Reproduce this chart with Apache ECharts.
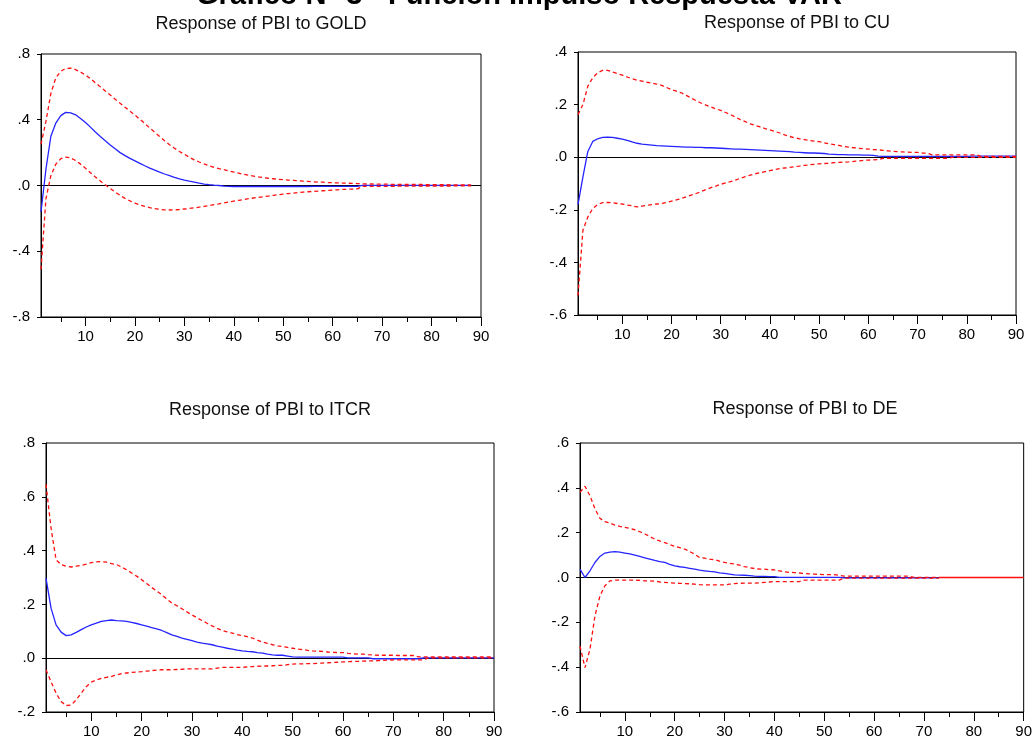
<!DOCTYPE html>
<html>
<head>
<meta charset="utf-8">
<script src="https://cdn.jsdelivr.net/npm/echarts@6/dist/echarts.min.js"></script>
<style>html,body{margin:0;padding:0;background:#fff}#c{width:1035px;height:740px}</style>
</head>
<body>
<div id="c"></div>
<script>
// ---------- data ----------
const mainTitle = 'Gráfico N° 3 - Función Impulso Respuesta VAR';
const panelTitles = ['Response of PBI to GOLD', 'Response of PBI to CU', 'Response of PBI to ITCR', 'Response of PBI to DE'];
const periods = Array.from({length: 90}, (_, i) => String(i + 1));

const goldIrf = [-0.16, 0.10, 0.30, 0.38, 0.425, 0.445, 0.442, 0.43, 0.408, 0.383,
 0.355, 0.325, 0.298, 0.272, 0.247, 0.223, 0.2, 0.182, 0.165, 0.15,
 0.135, 0.12, 0.106, 0.093, 0.081, 0.07, 0.06, 0.05, 0.041, 0.033,
 0.026, 0.02, 0.014, 0.009, 0.005, 0.002, 0, -0.004, -0.005, -0.006,
 -0.006, -0.006, -0.006, -0.006, -0.006, -0.006, -0.006, -0.006, -0.006, -0.006,
 -0.006, -0.006, -0.006, -0.006, -0.006, -0.005, -0.005, -0.005, -0.005, -0.005,
 -0.005, -0.005, -0.005, -0.005, -0.005, 0.001, 0.001, 0.001, 0.001, 0.001,
 0.001, 0.001, 0.001, 0.001, 0.001, 0.001, 0.001, 0.001, 0.001, 0.001,
 0.001, 0.001, 0.001, 0.001, 0.001, 0.001, 0.001, 0.001];
const goldUp = [0.25, 0.39, 0.56, 0.655, 0.695, 0.712, 0.714, 0.705, 0.69, 0.672,
 0.65, 0.625, 0.6, 0.575, 0.55, 0.525, 0.5, 0.476, 0.452, 0.428,
 0.403, 0.377, 0.35, 0.324, 0.298, 0.272, 0.248, 0.227, 0.207, 0.19,
 0.172, 0.156, 0.143, 0.131, 0.12, 0.111, 0.103, 0.096, 0.089, 0.082,
 0.075, 0.068, 0.062, 0.057, 0.052, 0.048, 0.044, 0.041, 0.038, 0.035,
 0.033, 0.031, 0.029, 0.027, 0.025, 0.023, 0.021, 0.02, 0.018, 0.017,
 0.016, 0.015, 0.014, 0.013, 0.012, 0.01, 0.009, 0.009, 0.008, 0.008,
 0.008, 0.007, 0.007, 0.007, 0.006, 0.006, 0.006, 0.006, 0.005, 0.005,
 0.005, 0.005, 0.005, 0.004, 0.004, 0.004, 0.004, 0.004];
const goldLo = [-0.51, -0.08, 0.06, 0.13, 0.163, 0.173, 0.168, 0.152, 0.13, 0.105,
 0.078, 0.052, 0.027, 0.004, -0.018, -0.04, -0.06, -0.078, -0.094, -0.107,
 -0.118, -0.127, -0.135, -0.141, -0.145, -0.148, -0.149, -0.148, -0.146, -0.143,
 -0.14, -0.136, -0.132, -0.127, -0.122, -0.117, -0.112, -0.106, -0.1, -0.095,
 -0.09, -0.085, -0.08, -0.076, -0.072, -0.068, -0.064, -0.06, -0.056, -0.052,
 -0.049, -0.046, -0.043, -0.04, -0.038, -0.036, -0.034, -0.032, -0.03, -0.028,
 -0.026, -0.024, -0.023, -0.022, -0.021, -0.006, -0.005, -0.005, -0.005, -0.005,
 -0.005, -0.005, -0.004, -0.004, -0.004, -0.004, -0.004, -0.004, -0.003, -0.003,
 -0.003, -0.003, -0.003, -0.003, -0.002, -0.002, -0.002, -0.002];

const cuIrf = [-0.18, -0.075, 0.022, 0.06, 0.07, 0.075, 0.076, 0.075, 0.072, 0.069,
 0.064, 0.058, 0.053, 0.05, 0.048, 0.046, 0.044, 0.043, 0.042, 0.041,
 0.04, 0.039, 0.038, 0.038, 0.037, 0.037, 0.036, 0.036, 0.035, 0.034,
 0.033, 0.032, 0.031, 0.031, 0.03, 0.029, 0.028, 0.027, 0.026, 0.025,
 0.024, 0.023, 0.022, 0.021, 0.019, 0.018, 0.017, 0.016, 0.016, 0.015,
 0.014, 0.012, 0.011, 0.01, 0.01, 0.009, 0.009, 0.009, 0.008, 0.008,
 0.007, 0.004, 0.003, 0.003, 0.003, 0.003, 0.003, 0.003, 0.003, 0.003,
 0.003, 0.003, 0.003, 0.003, 0.003, 0.003, 0.003, 0.003, 0.003, 0.003,
 0.004, 0.004, 0.004, 0.004, 0.004, 0.004, 0.004, 0.004, 0.004, 0.004];
const cuUp = [0.162, 0.2, 0.27, 0.302, 0.321, 0.33, 0.33, 0.324, 0.318, 0.312,
 0.305, 0.298, 0.293, 0.289, 0.285, 0.282, 0.278, 0.273, 0.265, 0.257,
 0.251, 0.245, 0.235, 0.225, 0.215, 0.206, 0.198, 0.191, 0.184, 0.178,
 0.17, 0.162, 0.152, 0.143, 0.135, 0.127, 0.121, 0.115, 0.109, 0.104,
 0.098, 0.092, 0.085, 0.079, 0.074, 0.07, 0.067, 0.064, 0.061, 0.059,
 0.055, 0.051, 0.048, 0.045, 0.041, 0.038, 0.036, 0.034, 0.032, 0.031,
 0.029, 0.028, 0.026, 0.024, 0.022, 0.021, 0.02, 0.019, 0.018, 0.018,
 0.016, 0.015, 0.009, 0.009, 0.009, 0.009, 0.009, 0.009, 0.009, 0.009,
 0.009, 0.009, 0.003, 0.003, 0.003, 0.003, 0.003, 0.003, 0.003, 0.003];
const cuLo = [-0.526, -0.278, -0.227, -0.195, -0.18, -0.173, -0.172, -0.173, -0.176, -0.178,
 -0.182, -0.185, -0.189, -0.186, -0.183, -0.18, -0.178, -0.176, -0.172, -0.167,
 -0.162, -0.157, -0.151, -0.144, -0.138, -0.131, -0.123, -0.116, -0.11, -0.103,
 -0.098, -0.093, -0.087, -0.08, -0.074, -0.068, -0.063, -0.059, -0.055, -0.051,
 -0.047, -0.043, -0.041, -0.039, -0.036, -0.034, -0.031, -0.029, -0.027, -0.025,
 -0.024, -0.023, -0.021, -0.02, -0.019, -0.018, -0.016, -0.014, -0.012, -0.011,
 -0.01, -0.009, -0.004, -0.004, -0.004, -0.004, -0.004, -0.004, -0.004, -0.004,
 -0.004, -0.004, -0.004, -0.004, -0.004, -0.004, -0.001, -0.001, -0.001, -0.001,
 -0.001, -0.001, -0.001, -0.001, -0.001, -0.001, -0.001, -0.001, -0.001, -0.001];

const itcrIrf = [0.298, 0.186, 0.124, 0.097, 0.084, 0.087, 0.096, 0.106, 0.116, 0.124,
 0.13, 0.137, 0.14, 0.142, 0.14, 0.139, 0.137, 0.133, 0.129, 0.124,
 0.119, 0.114, 0.109, 0.103, 0.095, 0.087, 0.081, 0.075, 0.07, 0.065,
 0.06, 0.056, 0.053, 0.05, 0.045, 0.041, 0.037, 0.034, 0.03, 0.027,
 0.025, 0.024, 0.021, 0.019, 0.015, 0.012, 0.011, 0.011, 0.008, 0.005,
 0.004, 0.004, 0.004, 0.004, 0.004, 0.004, 0.004, 0.004, 0.004, 0.004,
 0.001, 0.001, 0.001, 0.001, 0.001, -0.002, -0.002, -0.002, -0.002, -0.002,
 -0.002, -0.002, -0.002, -0.002, -0.002, 0.001, 0.001, 0.001, 0.001, 0.001,
 0.001, 0.001, 0.001, 0.001, 0.001, 0.001, 0.001, 0.001, 0.001, 0.001];
const itcrUp = [0.646, 0.484, 0.366, 0.348, 0.342, 0.339, 0.342, 0.345, 0.35, 0.355,
 0.358, 0.359, 0.357, 0.352, 0.348, 0.339, 0.329, 0.317, 0.305, 0.292,
 0.278, 0.263, 0.25, 0.236, 0.22, 0.205, 0.195, 0.184, 0.172, 0.161,
 0.15, 0.14, 0.13, 0.12, 0.111, 0.103, 0.098, 0.093, 0.088, 0.084,
 0.08, 0.075, 0.067, 0.06, 0.055, 0.05, 0.046, 0.043, 0.04, 0.037,
 0.034, 0.032, 0.029, 0.027, 0.026, 0.025, 0.023, 0.022, 0.021, 0.021,
 0.018, 0.016, 0.015, 0.015, 0.013, 0.012, 0.011, 0.011, 0.011, 0.011,
 0.01, 0.01, 0.01, 0.01, 0.005, 0.005, 0.005, 0.005, 0.005, 0.005,
 0.005, 0.005, 0.005, 0.005, 0.005, 0.005, 0.005, 0.005, 0.005, 0.005];
const itcrLo = [-0.043, -0.087, -0.13, -0.161, -0.176, -0.174, -0.155, -0.13, -0.106, -0.089,
 -0.081, -0.075, -0.071, -0.068, -0.062, -0.057, -0.055, -0.053, -0.051, -0.05,
 -0.048, -0.046, -0.044, -0.043, -0.043, -0.043, -0.042, -0.041, -0.04, -0.04,
 -0.04, -0.04, -0.04, -0.04, -0.037, -0.034, -0.034, -0.034, -0.034, -0.034,
 -0.032, -0.031, -0.03, -0.029, -0.029, -0.028, -0.027, -0.027, -0.024, -0.022,
 -0.021, -0.021, -0.02, -0.02, -0.019, -0.018, -0.017, -0.016, -0.015, -0.014,
 -0.013, -0.012, -0.012, -0.011, -0.01, -0.01, -0.009, -0.008, -0.007, -0.006,
 -0.006, -0.006, -0.006, -0.006, -0.006, -0.006, 0.001, 0.001, 0.001, 0.001,
 0.001, 0.001, 0.001, 0.001, 0.001, 0.001, 0.001, 0.001, 0.001, 0.001];

const deIrf = [0.037, 0.0, 0.03, 0.067, 0.094, 0.109, 0.113, 0.115, 0.113, 0.109,
 0.105, 0.1, 0.094, 0.088, 0.082, 0.076, 0.071, 0.067, 0.059, 0.052,
 0.048, 0.045, 0.041, 0.037, 0.033, 0.03, 0.027, 0.025, 0.021, 0.018,
 0.015, 0.012, 0.011, 0.01, 0.008, 0.006, 0.005, 0.005, 0.004, 0.004,
 0.001, 0.001, 0.001, 0.001, 0.001, 0.001, 0.001, 0.001, 0.001, 0.001,
 0.001, 0.001, 0.001, -0.002, -0.002, -0.002, -0.002, -0.002, -0.002, -0.002,
 -0.002, -0.002, -0.002, -0.002, -0.002, -0.002, -0.002, -0.002, -0.002, -0.002,
 -0.002, -0.002, -0.002];
const deUp = [0.38, 0.407, 0.365, 0.306, 0.264, 0.249, 0.243, 0.234, 0.228, 0.224,
 0.219, 0.213, 0.204, 0.194, 0.183, 0.171, 0.163, 0.156, 0.147, 0.139,
 0.133, 0.127, 0.116, 0.104, 0.089, 0.086, 0.082, 0.079, 0.073, 0.067,
 0.063, 0.06, 0.055, 0.049, 0.044, 0.04, 0.038, 0.037, 0.035, 0.034,
 0.03, 0.025, 0.023, 0.022, 0.02, 0.018, 0.016, 0.015, 0.014, 0.013,
 0.013, 0.013, 0.01, 0.006, 0.006, 0.006, 0.006, 0.006, 0.006, 0.006,
 0.006, 0.006, 0.006, 0.006, 0.006, 0.006, 0.006, 0.001, 0.001, 0.001,
 0.001, 0.001, 0.001];
const deLo = [-0.306, -0.402, -0.32, -0.171, -0.082, -0.037, -0.015, -0.012, -0.012, -0.012,
 -0.012, -0.012, -0.013, -0.015, -0.015, -0.016, -0.02, -0.022, -0.024, -0.025,
 -0.026, -0.027, -0.028, -0.03, -0.032, -0.033, -0.033, -0.033, -0.033, -0.033,
 -0.03, -0.027, -0.026, -0.025, -0.025, -0.025, -0.024, -0.022, -0.02, -0.018,
 -0.018, -0.018, -0.018, -0.018, -0.018, -0.012, -0.012, -0.012, -0.012, -0.012,
 -0.012, -0.012, -0.012, -0.003, -0.003, -0.003, -0.003, -0.003, -0.003, -0.003,
 -0.003, -0.003, -0.003, -0.003, -0.003, -0.003, -0.003, -0.003, -0.003, -0.003,
 -0.003, -0.003, -0.003];
// bands collapsed onto zero, periods 73..90 (drawn solid red in the reference)
const deBandTailStart = 73;
const deBandTail = [0, 0, 0, 0, 0, 0, 0, 0, 0, 0, 0, 0, 0, 0, 0, 0, 0, 0];

const yRanges = [[-0.8, 0.8, 0.4], [-0.6, 0.4, 0.2], [-0.2, 0.8, 0.2], [-0.6, 0.6, 0.2]];

// ---------- layout / styles ----------
const FONT = '"Liberation Sans", Arial, sans-serif';
const boxes = [[41, 54, 440, 263], [578, 52, 438, 263], [46, 443, 448, 269], [580, 443, 449, 269]];
const titlePos = [[261, 24], [797, 23], [270, 410], [805, 409]];
const BLUE = '#2424ff', RED = '#ff1010';

const panels = [
  {irf: goldIrf, up: goldUp, lo: goldLo},
  {irf: cuIrf, up: cuUp, lo: cuLo},
  {irf: itcrIrf, up: itcrUp, lo: itcrLo},
  {irf: deIrf, up: deUp, lo: deLo}
];

const fmtY = v => {
  const s = (Math.round(v * 10) / 10).toFixed(1);
  return s.replace(/^(-?)0\./, '$1.');
};

const grid = [], xAxis = [], yAxis = [], series = [];
const graphic = [{
  type: 'text', x: 519, y: -4, silent: true,
  style: {text: mainTitle, fontSize: 29, fontWeight: 'bold', fontFamily: FONT, fill: '#000',
          textAlign: 'center', textVerticalAlign: 'middle'}
}];

panels.forEach((p, i) => {
  const b = boxes[i];
  grid.push({left: b[0], top: b[1], width: b[2], height: b[3], show: true,
             borderColor: '#000', borderWidth: 1, backgroundColor: 'transparent', containLabel: false});
  graphic.push({type: 'text', x: titlePos[i][0], y: titlePos[i][1], silent: true,
    style: {text: panelTitles[i], fontSize: 18, fontFamily: FONT, fill: '#111',
            textAlign: 'center', textVerticalAlign: 'middle'}});
  xAxis.push({
    type: 'category', gridIndex: i, data: periods, boundaryGap: false, position: 'bottom',
    axisLine: {show: true, onZero: false, lineStyle: {color: '#000', width: 1}},
    axisTick: {show: true, interval: idx => (idx + 1) % 10 === 0, length: 9, lineStyle: {color: '#000'}},
    axisLabel: {show: true, interval: idx => (idx + 1) % 10 === 0, margin: 12, fontSize: 15,
                color: '#000', fontFamily: FONT},
    splitLine: {show: false}
  });
  xAxis.push({
    type: 'category', gridIndex: i, data: periods, boundaryGap: false, position: 'bottom',
    axisLine: {show: false, onZero: false},
    axisTick: {show: true, interval: idx => (idx + 1) % 10 === 5, length: 5, lineStyle: {color: '#000'}},
    axisLabel: {show: false}, splitLine: {show: false}
  });
  yAxis.push({
    type: 'value', gridIndex: i, min: yRanges[i][0], max: yRanges[i][1], interval: yRanges[i][2],
    axisLine: {show: true, onZero: false, lineStyle: {color: '#000', width: 1}},
    axisTick: {show: true, length: 4, lineStyle: {color: '#000'}},
    splitLine: {show: false},
    axisLabel: {formatter: fmtY, margin: 11, fontSize: 15, color: '#000', fontFamily: FONT}
  });
  series.push({
    type: 'line', xAxisIndex: 2 * i, yAxisIndex: i, data: p.irf, symbol: 'none', silent: true, z: 3,
    lineStyle: {color: BLUE, width: 1.3},
    markLine: {silent: true, symbol: 'none', z: 2, animation: false, label: {show: false},
               lineStyle: {color: '#000', type: 'solid', width: 1.2}, data: [{yAxis: 0}]}
  });
  series.push({
    type: 'line', xAxisIndex: 2 * i, yAxisIndex: i, data: p.up, symbol: 'none', silent: true, z: 4,
    lineStyle: {color: RED, width: 1.3, type: [4, 3]}
  });
  series.push({
    type: 'line', xAxisIndex: 2 * i, yAxisIndex: i, data: p.lo, symbol: 'none', silent: true, z: 4,
    lineStyle: {color: RED, width: 1.3, type: [4, 3]}
  });
});

// solid red tail of the DE bands
const tailData = periods.map((_, k) => (k + 1 >= deBandTailStart ? deBandTail[k + 1 - deBandTailStart] : null));
series.push({type: 'line', xAxisIndex: 6, yAxisIndex: 3, data: tailData, symbol: 'none', silent: true, z: 5,
             lineStyle: {color: RED, width: 1.5}});

const chart = echarts.init(document.getElementById('c'), null, {renderer: 'canvas'});
chart.setOption({
  animation: false,
  backgroundColor: '#fff',
  textStyle: {fontFamily: FONT},
  grid, xAxis, yAxis, series, graphic
});
</script>
</body>
</html>
